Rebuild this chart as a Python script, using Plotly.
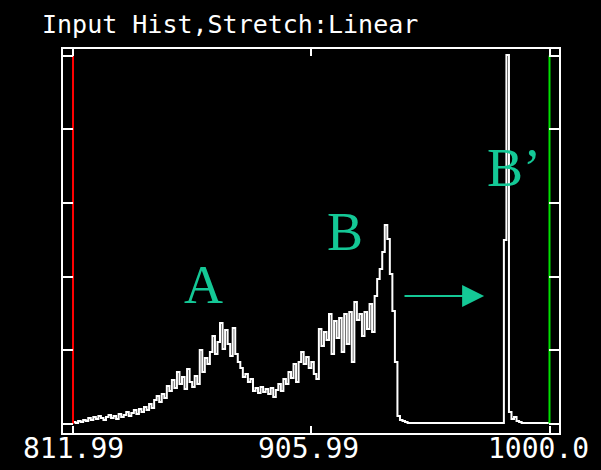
import plotly.graph_objects as go

# ---------------- data ----------------
title_text = "Input Hist,Stretch:Linear"
bin_start = 812
# histogram counts per bin (bin width = 1 DN)
hist_counts = [
    2, 1, 3, 2, 4, 3, 6, 4, 7, 5,
    8, 6, 4, 7, 9, 6, 8, 5, 10, 7,
    9, 12, 8, 11, 14, 10, 15, 12, 17, 14,
    20, 16, 24, 28, 22, 30, 26, 38, 33, 44,
    36, 52, 40, 47, 35, 55, 42, 37, 48, 40,
    74, 52, 66, 60, 72, 88, 70, 82, 101, 75,
    94, 80, 68, 96, 70, 62, 56, 47, 50, 42,
    45, 33, 36, 31, 37, 32, 35, 30, 36, 27,
    34, 40, 33, 45, 40, 52, 46, 60, 42, 62,
    72, 60, 67, 56, 62, 50, 45, 95, 78, 92,
    84, 110, 70, 103, 86, 106, 72, 110, 80, 112,
    62, 122, 104, 110, 88, 112, 95, 120, 92, 128,
    145, 155, 172, 199, 185, 150, 113, 62, 8, 4,
    3, 2, 1, 1, 1, 1, 1, 1, 1, 1,
    1, 1, 1, 1, 1, 1, 1, 1, 1, 1,
    1, 1, 1, 1, 1, 1, 1, 1, 1, 1,
    1, 1, 1, 1, 1, 1, 1, 1, 1, 1,
    184, 369, 12, 5, 7, 3, 2, 1, 1, 1,
    1, 1, 1, 1, 1, 1, 1, 1, 1,
]
bin_values = [bin_start + i for i in range(len(hist_counts))]

stretch_min = 811.99
stretch_max = 1000.0
x_tick_values = [811.99, 905.99, 1000.0]
x_tick_labels = ["811.99", "905.99", "1000.0"]
y_tick_values = [0, 73.7, 147.4, 221.1, 294.8, 368.5]
x_range = [808.04, 1003.75]
y_range = [-9, 375]

label_texts = ["A", "B", "B\u2019"]
label_x = [863.3, 919.3, 986.0]
label_y = [139, 192, 256]
arrow_tail = (942.2, 128)
arrow_head = (974.2, 128)

TEAL = "#14c896"

fig = go.Figure()

fig.add_trace(go.Scatter(
    x=bin_values, y=hist_counts, mode="lines", line_shape="hv",
    line=dict(color="white", width=2), hoverinfo="skip", showlegend=False))

fig.add_trace(go.Scatter(
    x=[stretch_min, stretch_min], y=[y_tick_values[0], y_tick_values[-1]],
    mode="lines", line=dict(color="#ff0000", width=2), showlegend=False))
fig.add_trace(go.Scatter(
    x=[stretch_max, stretch_max], y=[y_tick_values[0], y_tick_values[-1]],
    mode="lines", line=dict(color="#00e000", width=2), showlegend=False))

for t, lx, ly in zip(label_texts, label_x, label_y):
    fig.add_annotation(x=lx, y=ly, text=t, showarrow=False,
                       font=dict(family="Liberation Serif", size=54, color=TEAL),
                       xanchor="center", yanchor="middle")

fig.add_annotation(x=arrow_head[0], y=arrow_head[1], ax=arrow_tail[0], ay=arrow_tail[1],
                   axref="x", ayref="y", text="", showarrow=True,
                   arrowhead=2, arrowsize=2.2, arrowwidth=2, arrowcolor=TEAL)

# x tick labels as text below the frame
label_anchor = ["center", "center", "right"]
label_shift = [0, -3, 41]
for v, t, a, s in zip(x_tick_values, x_tick_labels, label_anchor, label_shift):
    fig.add_annotation(x=v, y=0, yref="paper", text=t, showarrow=False,
                       xanchor=a, yanchor="top", xshift=s, yshift=3,
                       font=dict(family="DejaVu Sans Mono", size=28, color="white"))

fig.update_layout(
    width=601, height=470,
    paper_bgcolor="black", plot_bgcolor="black",
    margin=dict(l=63, r=42, t=49, b=37),
    title=dict(text=title_text, xref="container", yref="container",
               x=42 / 601, xanchor="left", y=1 - 24 / 470, yanchor="middle",
               font=dict(family="DejaVu Sans Mono", size=25, color="white")),
    showlegend=False,
)
fig.update_xaxes(range=x_range, showgrid=False, zeroline=False,
                 showline=True, linecolor="white", linewidth=2, mirror="ticks",
                 ticks="inside", ticklen=7, tickwidth=2, tickcolor="white",
                 tickvals=x_tick_values, showticklabels=False)
fig.update_yaxes(range=y_range, showgrid=False, zeroline=False,
                 showline=True, linecolor="white", linewidth=2, mirror="ticks",
                 ticks="inside", ticklen=10, tickwidth=2, tickcolor="white",
                 tickvals=y_tick_values, showticklabels=False)

fig.write_html("out.html")
